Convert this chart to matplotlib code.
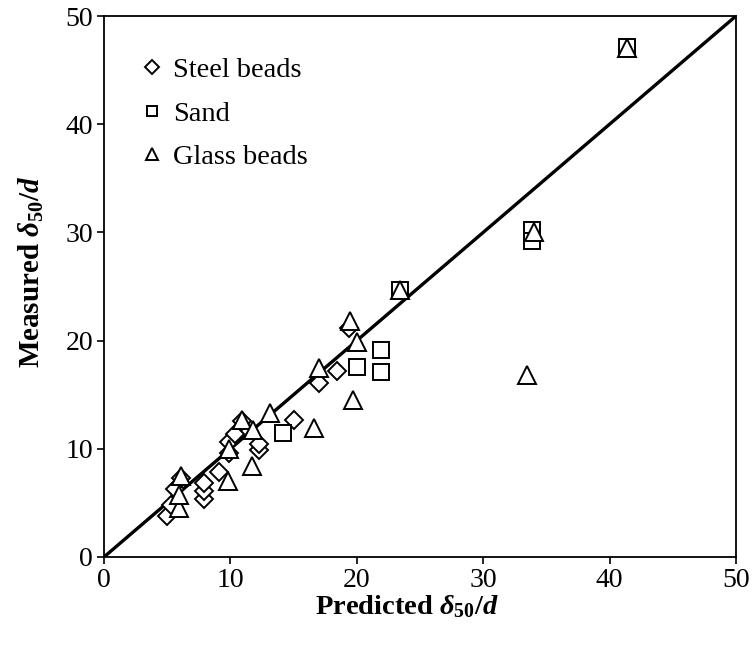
import matplotlib
matplotlib.use("Agg")
import matplotlib.pyplot as plt

plt.rcParams['font.family'] = ['Liberation Serif', 'DejaVu Serif']
plt.rcParams['mathtext.fontset'] = 'custom'
plt.rcParams['mathtext.rm'] = 'Liberation Serif:bold'
plt.rcParams['mathtext.it'] = 'Liberation Serif:italic:bold'
plt.rcParams['mathtext.bf'] = 'Liberation Serif:bold'

steel_pred = [5.0, 5.3, 5.6, 6.1, 7.9, 7.9, 7.9, 9.1, 9.9, 9.9, 10.4, 10.9, 12.3, 12.3, 15.0, 17.0, 18.4, 19.4]
steel_meas = [3.8, 4.8, 6.3, 7.3, 5.4, 6.1, 6.8, 7.9, 9.6, 10.6, 11.4, 12.6, 9.9, 10.4, 12.7, 16.1, 17.2, 21.2]

sand_pred = [14.2, 20.0, 21.9, 21.9, 23.4, 33.9, 33.9, 41.4]
sand_meas = [11.5, 17.6, 19.1, 17.1, 24.7, 30.2, 29.2, 47.1]

glass_pred = [5.9, 5.9, 6.1, 9.8, 9.9, 10.9, 11.8, 11.7, 13.1, 16.6, 17.0, 19.5, 20.0, 19.7, 23.4, 33.5, 34.0, 41.4]
glass_meas = [4.5, 5.7, 7.5, 7.0, 10.0, 12.7, 11.7, 8.4, 13.3, 11.9, 17.5, 21.8, 19.9, 14.5, 24.7, 16.8, 30.0, 47.0]

line_x = [0, 50]
line_y = [0, 50]

xticks = [0, 10, 20, 30, 40, 50]
yticks = [0, 10, 20, 30, 40, 50]

fig = plt.figure(figsize=(7.56, 6.46), dpi=100)
ax = fig.add_axes([104/756, 1-557/646, 632/756, 541/646])

ax.plot(line_x, line_y, color='black', lw=2.4, zorder=1)

mk = dict(linestyle='none', markerfacecolor='white', markeredgecolor='black', markeredgewidth=1.4)
ax.plot(steel_pred, steel_meas, marker='D', markersize=9.5, label='Steel beads', zorder=3, **mk)
ax.plot(sand_pred, sand_meas, marker='s', markersize=11, label='Sand', zorder=3, **mk)
ax.plot(glass_pred, glass_meas, marker='^', markersize=13, label='Glass beads', zorder=3, **mk)

ax.set_xlim(0, 50)
ax.set_ylim(0, 50)
ax.set_xticks(xticks)
ax.set_yticks(yticks)
ax.tick_params(direction='out', length=5, width=1.2, labelsize=20, pad=3)
for s in ax.spines.values():
    s.set_linewidth(1.3)

ax.set_xlabel(r'Predicted $\delta_{50}/d$', fontsize=20.5, fontweight='bold')
ax.set_ylabel(r'Measured $\delta_{50}/d$', fontsize=21, fontweight='bold')
ax.xaxis.set_label_coords(0.48, -0.067)
ax.yaxis.set_label_coords(-0.092, 0.527)

leg = ax.legend(loc='upper left', bbox_to_anchor=(0.04, 0.945), frameon=False,
                fontsize=20.5, markerscale=0.7, handlelength=0.8, handletextpad=0.35,
                labelspacing=0.62, borderaxespad=0)

fig.savefig('out.png', dpi=100)
